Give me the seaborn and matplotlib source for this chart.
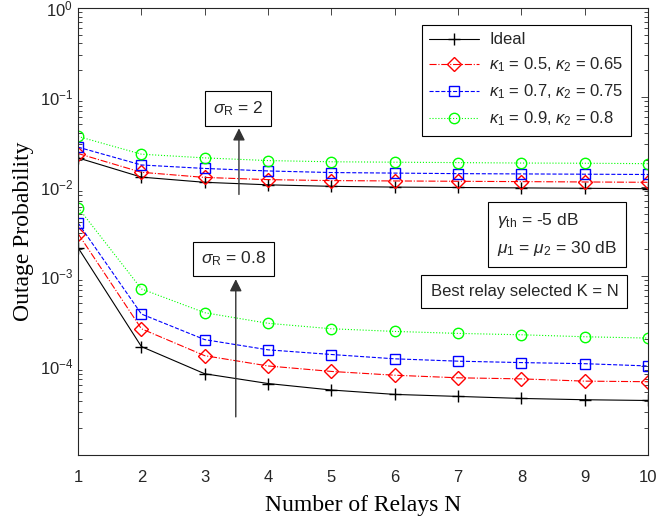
import matplotlib
matplotlib.use('Agg')
import matplotlib.pyplot as plt
import seaborn as sns
import numpy as np

# Number of relays
relays = [1, 2, 3, 4, 5, 6, 7, 8, 9, 10]

# sigma_R = 2 group
ideal_s2 = [0.021, 0.0128, 0.0112, 0.0105, 0.0101, 0.0099, 0.0098, 0.0097, 0.0096, 0.0095]
k05_s2 = [0.0235, 0.0145, 0.0127, 0.0120, 0.0117, 0.0116, 0.0115, 0.0114, 0.0113, 0.0112]
k07_s2 = [0.0277, 0.0175, 0.0160, 0.0150, 0.0144, 0.0142, 0.0140, 0.0139, 0.0138, 0.0137]
k09_s2 = [0.0365, 0.0231, 0.0210, 0.0196, 0.0190, 0.0188, 0.0186, 0.0184, 0.0183, 0.0181]

# sigma_R = 0.8 group
ideal_s08 = [2.08e-3, 1.63e-4, 8.1e-5, 6.3e-5, 5.33e-5, 4.76e-5, 4.52e-5, 4.29e-5, 4.15e-5, 4.07e-5]
k05_s08 = [2.99e-3, 2.58e-4, 1.29e-4, 9.9e-5, 8.6e-5, 7.8e-5, 7.3e-5, 7.1e-5, 6.7e-5, 6.6e-5]
k07_s08 = [3.94e-3, 3.77e-4, 1.95e-4, 1.50e-4, 1.33e-4, 1.19e-4, 1.12e-4, 1.08e-4, 1.05e-4, 9.9e-5]
k09_s08 = [5.85e-3, 7.2e-4, 3.9e-4, 2.97e-4, 2.58e-4, 2.41e-4, 2.29e-4, 2.21e-4, 2.10e-4, 2.03e-4]

labels = ['Ideal',
          r'$\kappa_1$ = 0.5, $\kappa_2$ = 0.65',
          r'$\kappa_1$ = 0.7, $\kappa_2$ = 0.75',
          r'$\kappa_1$ = 0.9, $\kappa_2$ = 0.8']

sns.set_theme(style='white')
plt.rcParams['font.family'] = ['Liberation Sans', 'DejaVu Sans']
plt.rcParams['mathtext.fontset'] = 'custom'
plt.rcParams['mathtext.rm'] = 'Liberation Sans'
plt.rcParams['mathtext.it'] = 'Liberation Sans:italic'

styles = [
    dict(color='black', linestyle='-', marker='+', markersize=8, mfc='none', mec='black', mew=1.0),
    dict(color='red', linestyle='-.', marker='D', markersize=7, mfc='none', mec='red', mew=1.0),
    dict(color='blue', linestyle='--', marker='s', markersize=6.5, mfc='none', mec='blue', mew=1.0),
    dict(color='#00ff00', linestyle=':', marker='o', markersize=7.5, mfc='none', mec='#00ff00', mew=1.0),
]

fig = plt.figure(figsize=(6.56, 5.23), dpi=100)
ax = fig.add_axes([0.119, 0.130, 0.869, 0.855])

groups_s2 = [ideal_s2, k05_s2, k07_s2, k09_s2]
groups_s08 = [ideal_s08, k05_s08, k07_s08, k09_s08]
for vals, lab, st in zip(groups_s2, labels, styles):
    sns.lineplot(x=relays, y=vals, ax=ax, label=lab, linewidth=0.8, **st)
for vals, st in zip(groups_s08, styles):
    sns.lineplot(x=relays, y=vals, ax=ax, linewidth=0.8, **st)

ax.set_yscale('log')
ax.set_xlim(1, 10)
ax.set_ylim(1e-5, 1)
ax.set_xticks(relays)
ax.set_xticklabels([str(n) for n in relays], fontsize=12)
ax.set_yticks([1e-5, 1e-4, 1e-3, 1e-2, 1e-1, 1])
ax.set_yticklabels(['', r'$10^{-4}$', r'$10^{-3}$', r'$10^{-2}$', r'$10^{-1}$', r'$10^{0}$'], fontsize=12)
ax.yaxis.set_minor_locator(matplotlib.ticker.LogLocator(base=10, subs=np.arange(2, 10)))
ax.yaxis.set_minor_formatter(matplotlib.ticker.NullFormatter())
ax.tick_params(which='both', direction='in', top=True, right=True, colors='#262626')
ax.tick_params(which='major', length=5, width=0.6)
ax.tick_params(which='minor', length=3, width=0.6, left=True, right=True)
ax.tick_params(axis='x', pad=11)
for sp in ax.spines.values():
    sp.set_color('#262626')
    sp.set_linewidth(0.8)

ax.set_xlabel('Number of Relays N', family='Liberation Serif', fontsize=17, color='black', labelpad=7)
ax.set_ylabel('Outage Probability', family='Liberation Serif', fontsize=17, color='black')

leg = ax.legend(loc='upper right', bbox_to_anchor=(0.970, 0.962), fontsize=12,
                frameon=True, fancybox=False, edgecolor='black', framealpha=1,
                handlelength=3.0, labelspacing=0.5, borderpad=0.45, handletextpad=0.6,
                borderaxespad=0)
leg.get_frame().set_linewidth(0.8)

box = dict(boxstyle='square,pad=0.45', fc='white', ec='black', lw=0.8)
ax.text(0.280, 0.775, r'$\sigma_{\rm R}$ = 2', transform=ax.transAxes, fontsize=12.5,
        ha='center', va='center', bbox=box)
ax.text(0.273, 0.4385, r'$\sigma_{\rm R}$ = 0.8', transform=ax.transAxes, fontsize=12.5,
        ha='center', va='center', bbox=box)
ax.text(0.735, 0.493, '$\\gamma_{\\rm th}$ = -5 dB\n$\\mu_1$ = $\\mu_2$ = 30 dB', transform=ax.transAxes,
        fontsize=12.5, ha='left', va='center', linespacing=1.6, multialignment='left',
        bbox=dict(boxstyle='square,pad=0.55', fc='white', ec='black', lw=0.8))
ax.text(0.783, 0.365, 'Best relay selected K = N', transform=ax.transAxes, fontsize=12,
        ha='center', va='center',
        bbox=dict(boxstyle='square,pad=0.55', fc='white', ec='black', lw=0.8))

arrow = dict(arrowstyle='-|>', color='#333333', lw=1.0, mutation_scale=18,
             shrinkA=0, shrinkB=0)
ax.annotate('', xy=(3.54, 0.045), xytext=(3.54, 0.0082), arrowprops=arrow)
ax.annotate('', xy=(3.49, 9.25e-4), xytext=(3.49, 2.67e-5), arrowprops=arrow)

fig.savefig('out.png', dpi=100)
